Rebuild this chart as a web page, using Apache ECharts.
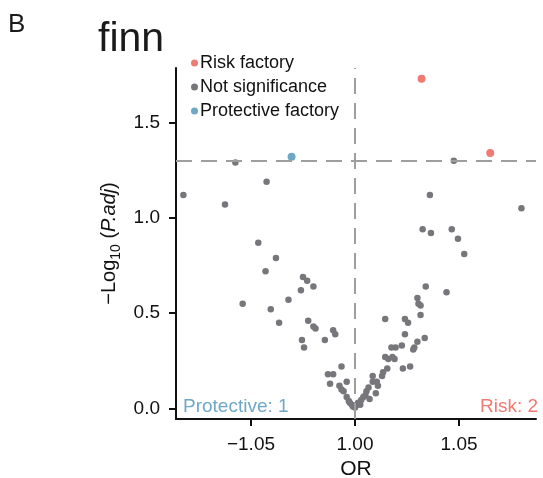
<!DOCTYPE html>
<html>
<head>
<meta charset="utf-8">
<script src="https://cdn.jsdelivr.net/npm/echarts@6/dist/echarts.min.js"></script>
<style>
  html, body { margin: 0; padding: 0; background: #fff; }
  #main { width: 543px; height: 478px; }
</style>
</head>
<body>
<div id="main"></div>
<script>
    // x is the OR position on the plot scale (1 unit = one labelled step), y is -log10(P.adj)
    const riskPoints = [[0.64, 1.73], [1.30, 1.34]];
    const protectivePoints = [[-0.61, 1.32]];
    const notSigPoints = [
        [-1.65, 1.12], [-1.25, 1.07], [-1.15, 1.29], [-0.85, 1.19], [-0.93, 0.87], [-0.76, 0.79],
        [-0.86, 0.72], [-1.08, 0.55], [-0.81, 0.52], [-0.73, 0.45], [-0.64, 0.57], [-0.52, 0.62],
        [-0.50, 0.69], [-0.46, 0.67], [-0.40, 0.64], [-0.45, 0.46], [-0.40, 0.43], [-0.38, 0.42],
        [-0.51, 0.36], [-0.49, 0.32], [-0.29, 0.36], [-0.21, 0.41], [-0.19, 0.39], [-0.26, 0.18],
        [-0.21, 0.18], [-0.13, 0.22], [-0.24, 0.13], [-0.08, 0.14], [-0.15, 0.12], [-0.13, 0.10],
        [-0.11, 0.09], [-0.08, 0.06], [-0.06, 0.04], [-0.05, 0.03], [-0.03, 0.02], [-0.02, 0.01],
        [0.00, 0.005],
        [0.95, 1.30], [0.72, 1.12], [1.60, 1.05], [0.65, 0.94], [0.73, 0.92], [0.93, 0.94],
        [0.99, 0.89], [1.05, 0.81], [0.68, 0.64], [0.88, 0.61], [0.60, 0.58], [0.61, 0.55],
        [0.63, 0.54], [0.63, 0.49], [0.29, 0.47], [0.48, 0.47], [0.51, 0.45], [0.48, 0.39],
        [0.67, 0.37], [0.60, 0.35], [0.57, 0.32], [0.56, 0.31], [0.45, 0.33], [0.39, 0.32],
        [0.35, 0.32], [0.29, 0.27], [0.32, 0.26], [0.36, 0.27], [0.38, 0.26], [0.31, 0.21],
        [0.27, 0.19], [0.26, 0.17], [0.46, 0.21], [0.53, 0.22], [0.17, 0.17], [0.17, 0.14],
        [0.21, 0.14], [0.22, 0.12], [0.13, 0.11], [0.20, 0.08], [0.11, 0.09], [0.10, 0.07],
        [0.08, 0.06], [0.06, 0.045], [0.03, 0.03], [0.02, 0.02], [0.14, 0.05], [0.05, 0.02]
    ];
    const xTicks = [-1, 0, 1];
    const xTickLabels = ['\u22121.05', '1.00', '1.05'];
    const yTicks = [0, 0.5, 1, 1.5];
    const yTickLabels = ['0.0', '0.5', '1.0', '1.5'];
    const pCut = 0.05;

    const font = "'Liberation Sans', Arial, sans-serif";
    const red = '#EF7B73', blue = '#6FA8C7', grey = '#77777b';

    let myChart = echarts.init(document.getElementById('main'));
    myChart.setOption({
        animation: false,
        textStyle: { fontFamily: font },
        title: {
            text: 'finn',
            left: 93, top: 14,
            textStyle: { fontSize: 41, fontWeight: 'normal', color: '#1a1a1a', fontFamily: font }
        },
        graphic: [
            { type: 'text', left: 8, top: 12, style: { text: 'B', fontSize: 26, fill: '#1a1a1a', fontFamily: font } },
            { type: 'text', left: 183, top: 397,
              style: { text: 'Protective: ' + protectivePoints.length, fontSize: 19, fill: blue, fontFamily: font } },
            { type: 'text', right: 5, top: 397,
              style: { text: 'Risk: ' + riskPoints.length, fontSize: 19, fill: red, fontFamily: font } }
        ],
        legend: {
            orient: 'vertical',
            left: 186, top: 49,
            itemWidth: 7, itemHeight: 7, itemGap: 6,
            icon: 'circle',
            textStyle: { fontSize: 18, color: '#111', fontFamily: font, padding: [0, 0, 0, -3] },
            data: ['Risk factory', 'Not significance', 'Protective factory']
        },
        grid: { left: 176, top: 68, width: 360, height: 351, containLabel: false, outerBoundsMode: 'none' },
        xAxis: {
            type: 'value',
            min: -1.721, max: 1.74,
            name: 'OR', nameLocation: 'middle', nameGap: 37,
            nameTextStyle: { fontSize: 21, color: '#111', fontFamily: font },
            axisLine: { show: true, onZero: false, lineStyle: { color: '#111', width: 2 } },
            axisTick: { show: true, length: 7, lineStyle: { color: '#111', width: 2 }, customValues: xTicks },
            axisLabel: {
                fontSize: 19, color: '#111', margin: 16, customValues: xTicks,
                formatter: v => xTickLabels[xTicks.indexOf(Math.round(v))]
            },
            splitLine: { show: false }
        },
        yAxis: {
            type: 'value',
            min: -0.055, max: 1.786,
            name: '\u2212Log{sub|10} ({it|P.adj})',
            nameLocation: 'middle', nameGap: 51, nameRotate: 90,
            nameTextStyle: {
                fontSize: 20, color: '#111', fontFamily: font, lineHeight: 26,
                rich: {
                    sub: { fontSize: 14, lineHeight: 26, verticalAlign: 'bottom', color: '#111', fontFamily: font },
                    it: { fontSize: 20, fontStyle: 'italic', color: '#111', fontFamily: font }
                }
            },
            axisLine: { show: true, onZero: false, lineStyle: { color: '#111', width: 2 } },
            axisTick: { show: true, length: 7, lineStyle: { color: '#111', width: 2 }, customValues: yTicks },
            axisLabel: {
                fontSize: 19, color: '#111', margin: 16, customValues: yTicks,
                formatter: v => yTickLabels[yTicks.indexOf(v)]
            },
            splitLine: { show: false }
        },
        series: [
            {
                name: 'cut', type: 'scatter', data: [], z: 1, silent: true,
                markLine: {
                    silent: true, symbol: 'none', label: { show: false },
                    lineStyle: { type: [16, 9], color: '#9e9e9e', width: 2 },
                    data: [{ yAxis: -Math.log10(pCut) }, { xAxis: 0 }]
                }
            },
            {
                name: 'Not significance', type: 'scatter', data: notSigPoints,
                symbolSize: 6.5, itemStyle: { color: grey, opacity: 1 }, z: 3
            },
            {
                name: 'Risk factory', type: 'scatter', data: riskPoints,
                symbolSize: 8, itemStyle: { color: red, opacity: 1 }, z: 3
            },
            {
                name: 'Protective factory', type: 'scatter', data: protectivePoints,
                symbolSize: 8, itemStyle: { color: blue, opacity: 1 }, z: 3
            }
        ]
    });
</script>
</body>
</html>
